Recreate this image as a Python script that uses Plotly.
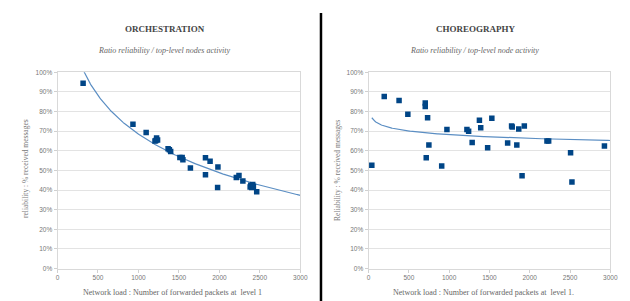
import numpy as np
import plotly.graph_objects as go

# ---- data ----
orch_load = [316, 932, 1095, 1224, 1216, 1236, 1204, 1366, 1382, 1398, 1512, 1540, 1549,
             1642, 1828, 1828, 1885, 1982, 1978, 2209, 2242, 2290, 2388, 2412, 2400,
             2380, 2420, 2461]
orch_rel = [94.4, 73.5, 69.3, 66.5, 65.2, 65.5, 65.0, 61.0, 60.5, 59.7, 56.6, 56.6, 55.4,
            51.2, 56.4, 47.8, 54.7, 51.7, 41.3, 46.4, 47.4, 44.6, 42.5, 42.8, 41.3,
            41.5, 41.8, 39.1]

chor_load = [41, 195, 379, 488, 704, 704, 733, 716, 749, 908, 973, 1221, 1242, 1286,
             1376, 1392, 1478, 1530, 1726, 1775, 1783, 1840, 1864, 1905, 1933, 2214,
             2235, 2507, 2524, 2927]
chor_rel = [52.7, 87.6, 85.6, 78.6, 84.4, 82.6, 76.8, 56.4, 63.0, 52.2, 70.8, 70.8, 70.0,
            64.2, 75.5, 71.8, 61.5, 76.6, 64.0, 72.6, 72.1, 63.0, 71.1, 47.3, 72.6,
            65.0, 65.0, 59.0, 44.1, 62.5]

x_ticks = [0, 500, 1000, 1500, 2000, 2500, 3000]
y_ticks = [0, 10, 20, 30, 40, 50, 60, 70, 80, 90, 100]
y_tick_labels = ["0%", "10%", "20%", "30%", "40%", "50%", "60%", "70%", "80%", "90%", "100%"]

MARK = "#004586"
TREND = "#5b8ec3"
SERIF = "Liberation Serif, DejaVu Serif, serif"
SANS = "Liberation Sans, DejaVu Sans, sans-serif"


def log_trend(x, y, xmax=3000):
    b, a = np.polyfit(np.log(x), y, 1)
    xs = np.linspace(min(x), xmax, 300)
    return xs, a + b * np.log(xs)


fig = go.Figure()
for i, (lx, ly) in enumerate([(orch_load, orch_rel), (chor_load, chor_rel)]):
    xa = "x" if i == 0 else "x2"
    ya = "y" if i == 0 else "y2"
    tx, ty = log_trend(lx, ly)
    fig.add_trace(go.Scatter(x=tx, y=ty, mode="lines", xaxis=xa, yaxis=ya,
                             line=dict(color=TREND, width=1.2), hoverinfo="skip"))
    fig.add_trace(go.Scatter(x=lx, y=ly, mode="markers", xaxis=xa, yaxis=ya,
                             marker=dict(symbol="square", size=5.5, color=MARK)))

W, H = 630, 301


def px_x(p):
    return p / W


def px_y(p):
    return 1 - p / H


axis_common = dict(showgrid=True, gridcolor="#e3e3e3", gridwidth=1,
                   showline=True, linecolor="#d9d9d9", linewidth=1, mirror=True,
                   ticks="outside", ticklen=3, tickcolor="#d0d0d0",
                   tickfont=dict(family=SANS, size=6.5, color="#777"),
                   zeroline=False, fixedrange=True)

xcommon = dict(axis_common, range=[0, 3000], tickmode="array", tickvals=x_ticks,
               ticktext=[str(v) for v in x_ticks], showgrid=False)
ycommon = dict(axis_common, range=[0, 100], tickmode="array", tickvals=y_ticks,
               ticktext=y_tick_labels)

fig.update_layout(
    width=W, height=H, margin=dict(l=0, r=0, t=0, b=0),
    paper_bgcolor="white", plot_bgcolor="white", showlegend=False,
    xaxis=dict(xcommon, domain=[px_x(48.3), px_x(295)], anchor="y"),
    yaxis=dict(ycommon, domain=[px_y(262.7), px_y(61.7)], anchor="x"),
    xaxis2=dict(xcommon, domain=[px_x(364.3), px_x(610)], anchor="y2"),
    yaxis2=dict(ycommon, domain=[px_y(262.7), px_y(61.7)], anchor="x2"),
)

texts = [
    ("<b>ORCHESTRATION</b>", 157, 17, 9, "#444", 0),
    ("<i>Ratio reliability / top-level nodes activity</i>", 156, 39, 8, "#666", 0),
    ("<b>CHOREOGRAPHY</b>", 474, 17, 9, "#444", 0),
    ("<i>Ratio reliability / top-level node activity</i>", 472, 39, 8, "#666", 0),
    ("Network load : Number of forwarded packets at  level 1", 165, 287, 8, "#666", 0),
    ("Network load : Number of forwarded packets at  level 1.", 481, 287, 8, "#666", 0),
    ("reliability : % received messages", 16, 160, 7.5, "#777", -90),
    ("Reliability : % received messages", 333, 162, 7.5, "#777", -90),
]
for t, x, y, s, c, ang in texts:
    fig.add_annotation(text=t, x=px_x(x), y=px_y(y), xref="paper", yref="paper",
                       showarrow=False, xanchor="center", yanchor="middle",
                       textangle=ang, font=dict(family=SERIF, size=s, color=c))

fig.add_shape(type="line", xref="paper", yref="paper",
              x0=px_x(316), x1=px_x(316), y0=px_y(1), y1=px_y(300),
              line=dict(color="black", width=2.5))

fig.write_html("out.html")
